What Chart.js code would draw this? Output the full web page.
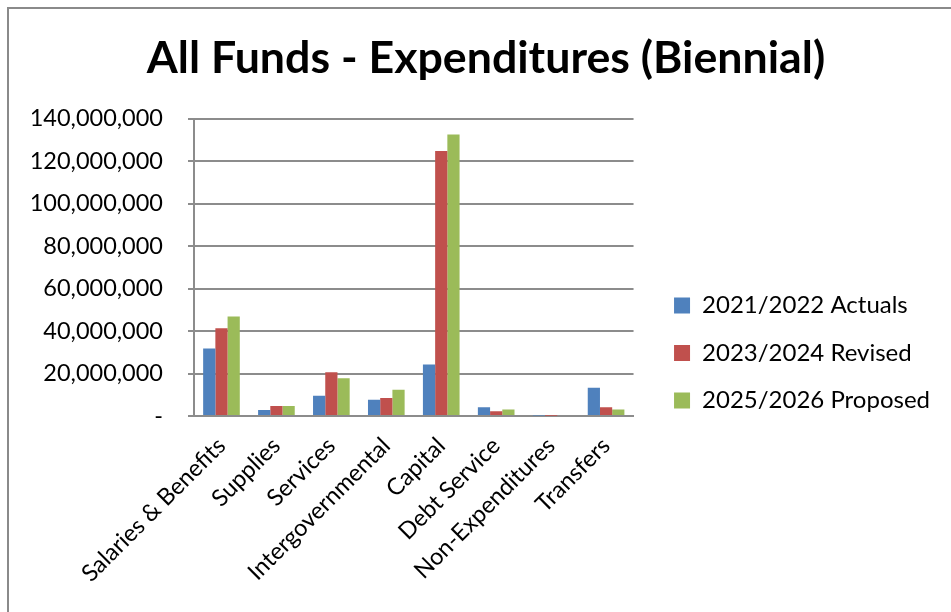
<!DOCTYPE html>
<html>
<head>
<meta charset="utf-8">
<title>All Funds - Expenditures (Biennial)</title>
<script src="https://cdn.jsdelivr.net/npm/chart.js@4.4.1/dist/chart.umd.min.js"></script>
<style>
  html, body { margin: 0; padding: 0; background: #fff; overflow: hidden; }
  #wrap { position: relative; width: 951px; height: 612px; }
  #frame {
    position: absolute; left: 7px; top: 7px; width: 960px; height: 620px;
    border: 2px solid #8a8a8a; pointer-events: none;
  }
  canvas { position: absolute; left: 0; top: 0; }
</style>
</head>
<body>
<div id="wrap">
  <canvas id="funds-chart" width="951" height="612"></canvas>
  <div id="frame"></div>
</div>
<script>
var categories = ['Salaries & Benefits', 'Supplies', 'Services', 'Intergovernmental',
                  'Capital', 'Debt Service', 'Non-Expenditures', 'Transfers'];
var actuals2122 = [31800000, 2800000, 9500000, 7600000, 24200000, 4100000, 200000, 13300000];
var revised2324 = [41300000, 4700000, 20600000, 8500000, 124800000, 2200000, 150000, 4100000];
var proposed2526 = [46800000, 4700000, 17800000, 12300000, 132500000, 3100000, 0, 3100000];
var seriesNames = ['2021/2022 Actuals', '2023/2024 Revised', '2025/2026 Proposed'];
var yTicks = [0, 20000000, 40000000, 60000000, 80000000, 100000000, 120000000, 140000000];

(function() {
  var ele = document.getElementById('funds-chart');
  var ctx = ele.getContext('2d');
  var gridColor = '#8c8c8c';
  var font = 'Lato, "Open Sans", sans-serif';

  var data = {
    labels: categories,
    datasets: [
      { label: seriesNames[0], data: actuals2122, backgroundColor: '#4F81BD' },
      { label: seriesNames[1], data: revised2324, backgroundColor: '#C0504D' },
      { label: seriesNames[2], data: proposed2526, backgroundColor: '#9BBB59' }
    ]
  };

  new Chart(ctx, {
    type: 'bar',
    data: data,
    options: {
      responsive: false,
      animation: false,
      events: [],
      color: '#000',
      layout: { padding: { left: 32, right: 11, top: 0, bottom: 0 } },
      datasets: {
        bar: { categoryPercentage: 0.667, barPercentage: 1.0, borderWidth: 0 }
      },
      plugins: {
        title: {
          display: true,
          text: 'All Funds - Expenditures (Biennial)',
          color: '#000',
          font: { family: font, size: 44.7, weight: 'bold', lineHeight: 1.2 },
          padding: { top: 32, bottom: 33 }
        },
        legend: {
          position: 'right',
          align: 'center',
          maxWidth: 330,
          title: { display: true, text: '', font: { size: 10 }, padding: { top: 82, bottom: 0 } },
          labels: {
            color: '#000',
            boxWidth: 16,
            boxHeight: 16,
            padding: 23.5,
            font: { family: font, size: 24 }
          }
        },
        tooltip: { enabled: false }
      },
      scales: {
        x: {
          grid: { display: false },
          border: { display: true, color: gridColor, width: 2 },
          ticks: {
            color: '#000',
            font: { family: font, size: 23.5 },
            minRotation: 45,
            maxRotation: 45,
            padding: 8
          },
          afterFit: function(s) { s.height = 196; }
        },
        y: {
          min: 0,
          max: 140000000,
          afterBuildTicks: function(s) {
            s.ticks = yTicks.map(function(v) { return { value: v }; });
          },
          grid: { color: gridColor, lineWidth: 2, drawTicks: true, tickLength: 6 },
          border: { display: true, color: gridColor, width: 2 },
          ticks: {
            color: '#000',
            padding: 25,
            font: { family: font, size: 23.5 },
            callback: function(v) { return v === 0 ? '-' : v.toLocaleString('en-US'); }
          },
          afterFit: function(s) { s.width = 162; }
        },
        // empty right-hand box that keeps the legend clear of the plot
        gap: {
          position: 'right',
          display: true,
          grid: { display: false },
          border: { display: false },
          ticks: { display: false },
          afterFit: function(s) { s.width = 17; }
        }
      }
    }
  });
})();
</script>
</body>
</html>
